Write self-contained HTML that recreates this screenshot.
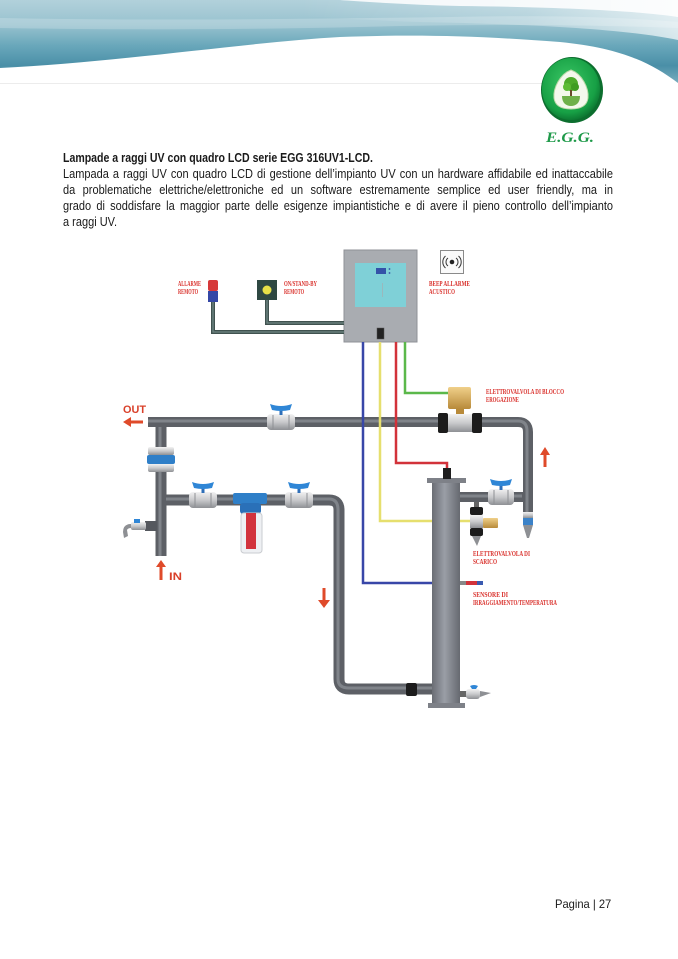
<!DOCTYPE html>
<html><head><meta charset="utf-8">
<style>
html,body{margin:0;padding:0;background:#fff;}
body{width:678px;height:959px;position:relative;overflow:hidden;font-family:"Liberation Sans",sans-serif;color:#1a1a1a;}
.ln{position:absolute;left:63px;width:625px;font-size:12.5px;line-height:16px;white-space:nowrap;text-align:justify;text-align-last:justify;transform:scaleX(0.88);transform-origin:0 0;}
.ttl{position:absolute;left:63px;top:150px;font-size:12.5px;line-height:16px;font-weight:bold;white-space:nowrap;transform:scaleX(0.845);transform-origin:0 0;}
.last{text-align:left;text-align-last:left;}
.foot{position:absolute;left:555px;top:897px;font-size:12px;line-height:15px;white-space:nowrap;transform:scaleX(0.93);transform-origin:0 0;}
svg{position:absolute;left:0;top:0;}
</style></head><body>
<svg width="678" height="959" viewBox="0 0 678 959" xmlns="http://www.w3.org/2000/svg">
<defs>
<linearGradient id="wv" x1="0" y1="0" x2="0" y2="82" gradientUnits="userSpaceOnUse">
<stop offset="0" stop-color="#b2d1db"/><stop offset="0.3" stop-color="#98c2cf"/><stop offset="0.55" stop-color="#6aa8bb"/><stop offset="0.8" stop-color="#4a8fa7"/><stop offset="1" stop-color="#76abbd"/>
</linearGradient>
<linearGradient id="wr" x1="0" y1="0" x2="1" y2="0">
<stop offset="0" stop-color="#fff" stop-opacity="0"/><stop offset="0.6" stop-color="#fff" stop-opacity="0.25"/><stop offset="1" stop-color="#fff" stop-opacity="0.7"/>
</linearGradient>
<linearGradient id="sil" x1="0" y1="0" x2="0" y2="1">
<stop offset="0" stop-color="#f2f2f2"/><stop offset="0.5" stop-color="#c9cacc"/><stop offset="1" stop-color="#8e9094"/>
</linearGradient>
<linearGradient id="col" x1="0" y1="0" x2="1" y2="0">
<stop offset="0" stop-color="#6a6d74"/><stop offset="0.45" stop-color="#9a9ea6"/><stop offset="1" stop-color="#666970"/>
</linearGradient>
<linearGradient id="brass" x1="0" y1="0" x2="0" y2="1">
<stop offset="0" stop-color="#f0d08a"/><stop offset="1" stop-color="#b88a3a"/>
</linearGradient>
<radialGradient id="grn" cx="0.45" cy="0.4" r="0.6">
<stop offset="0" stop-color="#3cc866"/><stop offset="0.8" stop-color="#17a045"/><stop offset="1" stop-color="#0d7a33"/>
</radialGradient>
</defs>

<!-- header wave -->
<path d="M0,0 H340 C420,3 520,5 600,9 C640,11 665,14 678,17 V83 C650,62 620,48 560,42 C480,36 420,34 340,37 C250,42 120,62 0,68 Z" fill="url(#wv)"/>
<path d="M0,18 C150,21 300,19 450,17 C550,15 620,17 678,22 V28 C600,25 500,24 400,26 C250,30 120,30 0,28 Z" fill="#ffffff" opacity="0.2"/>
<path d="M340,0 H678 V17 C640,11 560,7 460,6 C420,5 380,3 340,0 Z" fill="#f4f8fa"/>
<path d="M300,0 H678 V40 C620,28 520,24 420,22 C380,21 340,18 300,16 Z" fill="url(#wr)"/>
<line x1="0" y1="83.5" x2="560" y2="83.5" stroke="#ececec" stroke-width="1"/>

<!-- logo -->
<ellipse cx="572" cy="90" rx="31" ry="33" fill="#0c6e2e"/>
<ellipse cx="571" cy="89" rx="29" ry="31" fill="url(#grn)"/>
<path d="M571,70 C582,74 589,88 588,98 C587,106 580,109 571,109 C562,109 555,106 554,98 C553,88 560,74 571,70 Z" fill="#f4f8ec" stroke="#bcd9a8" stroke-width="1"/>
<circle cx="571" cy="84" r="7" fill="#4caa2a"/>
<circle cx="567" cy="87" r="4" fill="#5cbb34"/>
<circle cx="575" cy="87" r="4" fill="#3f9c22"/>
<rect x="570" y="90" width="2" height="6" fill="#6a4a2a"/>
<path d="M562,96 H580 C580,103 576,106 571,106 C566,106 562,103 562,96 Z" fill="#6fb04a"/>
<text x="546" y="142" font-family="Liberation Serif, serif" font-weight="bold" font-style="italic" font-size="15" fill="#1f9a4a" textLength="48" lengthAdjust="spacingAndGlyphs">E.G.G.</text>

<!-- control box -->
<rect x="344" y="250" width="73" height="92" fill="#a9acb1" stroke="#8f9297" stroke-width="1"/>
<rect x="355" y="263" width="51" height="44" fill="#7fd0d7"/>
<rect x="376" y="268" width="10" height="6" fill="#3452a8"/>
<circle cx="389.5" cy="269" r="0.9" fill="#3452a8"/><circle cx="389.5" cy="273" r="0.9" fill="#3452a8"/>
<rect x="382" y="283" width="1" height="14" fill="#9ab8bc"/>
<rect x="377" y="328" width="7" height="11" fill="#222" stroke="#555" stroke-width="0.5"/>

<!-- beep icon -->
<rect x="440.5" y="250.5" width="23" height="23" fill="#fafafa" stroke="#8a8a8a" stroke-width="1"/>
<circle cx="452" cy="262" r="2.3" fill="#222"/>
<path d="M448,258 A5,5 0 0 0 448,266 M456,258 A5,5 0 0 1 456,266 M445.5,256 A8,8 0 0 0 445.5,268 M458.5,256 A8,8 0 0 1 458.5,268" fill="none" stroke="#333" stroke-width="1"/>

<!-- beacon & button -->
<rect x="208" y="280" width="10" height="11" rx="2" fill="#d6393a"/>
<rect x="208" y="291" width="10" height="11" fill="#3447a6"/>
<rect x="257" y="280" width="20" height="20" fill="#2e4842"/>
<circle cx="267" cy="290" r="4.5" fill="#e6e048"/>

<!-- cables -->
<path d="M213,302 V332 H344 M267,300 V323 H344" fill="none" stroke="#40524f" stroke-width="4"/>
<path d="M213,302 V332 H344 M267,300 V323 H344" fill="none" stroke="#6f8784" stroke-width="1.3"/>

<!-- labels -->
<g font-family="Liberation Serif, serif" font-weight="bold" font-size="7" fill="#d9302b">
<text x="178" y="286" textLength="23" lengthAdjust="spacingAndGlyphs">ALLARME</text>
<text x="178" y="294" textLength="20" lengthAdjust="spacingAndGlyphs">REMOTO</text>
<text x="284" y="286" textLength="33" lengthAdjust="spacingAndGlyphs">ON/STAND-BY</text>
<text x="284" y="294" textLength="20" lengthAdjust="spacingAndGlyphs">REMOTO</text>
<text x="429" y="286" textLength="41" lengthAdjust="spacingAndGlyphs">BEEP ALLARME</text>
<text x="429" y="294" textLength="26" lengthAdjust="spacingAndGlyphs">ACUSTICO</text>
<text x="486" y="394" textLength="78" lengthAdjust="spacingAndGlyphs">ELETTROVALVOLA DI BLOCCO</text>
<text x="486" y="402" textLength="33" lengthAdjust="spacingAndGlyphs">EROGAZIONE</text>
<text x="473" y="556" textLength="57" lengthAdjust="spacingAndGlyphs">ELETTROVALVOLA DI</text>
<text x="473" y="564" textLength="24" lengthAdjust="spacingAndGlyphs">SCARICO</text>
<text x="473" y="597" textLength="35" lengthAdjust="spacingAndGlyphs">SENSORE DI</text>
<text x="473" y="605" textLength="84" lengthAdjust="spacingAndGlyphs">IRRAGGIAMENTO/TEMPERATURA</text>
</g>

<!-- pipes -->
<g fill="none" stroke-linejoin="round">
<path d="M148,422 H518 Q528,422 528,432 V513" stroke="#5d6066" stroke-width="10"/>
<path d="M161,422 V556" stroke="#5d6066" stroke-width="11"/>
<path d="M161,500 H329 Q339,500 339,510 V679 Q339,689 349,689 H432" stroke="#5d6066" stroke-width="11"/>
<path d="M460,497 H528" stroke="#5d6066" stroke-width="10"/>
<path d="M148,421 H518 Q527,421 527,431 V513" stroke="#80848a" stroke-width="3"/>
<path d="M160,427 V556" stroke="#80848a" stroke-width="3"/>
<path d="M166,499 H329 Q338,499 338,510 V679 Q338,688 349,688 H432" stroke="#80848a" stroke-width="3"/>
<path d="M460,496 H522" stroke="#80848a" stroke-width="3"/>
</g>

<!-- wires -->
<g fill="none" stroke-width="2.5">
<path d="M363,342 V583 H432" stroke="#3847a8"/>
<path d="M380,342 V521 H472" stroke="#e6df6e"/>
<path d="M396,342 V463 H447 V468" stroke="#d2323a"/>
<path d="M405,342 V393 H450" stroke="#5bb84a"/>
</g>

<!-- UV column -->
<rect x="432" y="480" width="28" height="226" fill="url(#col)"/>
<rect x="427" y="478" width="39" height="5" fill="#7e8188"/>
<rect x="428" y="703" width="37" height="5" fill="#7e8188"/>
<rect x="443" y="468" width="8" height="11" fill="#1e1e1e"/>
<!-- sensor -->
<rect x="460" y="581" width="8" height="4" fill="#888"/>
<rect x="466" y="581" width="11" height="4" fill="#d2323a"/>
<rect x="477" y="581" width="6" height="4" fill="#3a5ab0"/>

<!-- union bottom -->
<rect x="406" y="683" width="11" height="13" rx="2" fill="#1c1c1c"/>
<!-- bottom valve -->
<rect x="460" y="691" width="8" height="6" fill="#666"/>
<rect x="466" y="689" width="14" height="10" rx="3" fill="url(#sil)"/>
<path d="M470,686 Q474,684 478,686 L476,689 H472 Z" fill="#2f86d6"/>
<path d="M480,691 L491,693 L480,697 Z" fill="#8e9094"/>

<!-- electrovalve top -->
<rect x="456" y="408" width="8" height="6" fill="#b88a3a"/>
<rect x="448" y="387" width="23" height="22" rx="2" fill="url(#brass)"/>
<rect x="447" y="414" width="26" height="18" fill="url(#sil)"/>
<rect x="438" y="413" width="10" height="20" rx="2" fill="#1c1c1c"/>
<rect x="472" y="413" width="10" height="20" rx="2" fill="#1c1c1c"/>

<!-- right fitting & drain -->
<rect x="523" y="512" width="10" height="6" fill="url(#sil)"/>
<rect x="523" y="518" width="10" height="7" fill="#3b82c8"/>
<path d="M523,525 H533 L529,538 H527 Z" fill="#8e9094"/>

<!-- scarico valve -->
<rect x="474" y="502" width="5" height="6" fill="#666"/>
<rect x="470" y="507" width="13" height="8" rx="2" fill="#1c1c1c"/>
<rect x="470" y="515" width="13" height="13" fill="url(#sil)"/>
<rect x="470" y="528" width="13" height="8" rx="2" fill="#1c1c1c"/>
<path d="M472,536 H481 L477,546 Z" fill="#8e9094"/>
<rect x="483" y="518" width="15" height="10" rx="1" fill="url(#brass)"/>

<!-- ball valves -->
<g>
<rect x="267" y="414" width="28" height="16" rx="4" fill="url(#sil)"/>
<line x1="273" y1="415" x2="273" y2="429" stroke="#8e9094" stroke-width="1"/>
<line x1="289" y1="415" x2="289" y2="429" stroke="#8e9094" stroke-width="1"/>
<rect x="279.5" y="409" width="3" height="6" fill="#2f6fb8"/>
<path d="M270,404 Q281,408 292,404 L290,410 Q281,412 272,410 Z" fill="#2f86d6"/>
</g>
<g>
<rect x="189" y="492" width="28" height="16" rx="4" fill="url(#sil)"/>
<line x1="195" y1="493" x2="195" y2="507" stroke="#8e9094" stroke-width="1"/>
<line x1="211" y1="493" x2="211" y2="507" stroke="#8e9094" stroke-width="1"/>
<rect x="201.5" y="487" width="3" height="6" fill="#2f6fb8"/>
<path d="M192,482 Q203,486 214,482 L212,488 Q203,490 194,488 Z" fill="#2f86d6"/>
</g>
<g>
<rect x="285" y="492" width="28" height="16" rx="4" fill="url(#sil)"/>
<line x1="291" y1="493" x2="291" y2="507" stroke="#8e9094" stroke-width="1"/>
<line x1="307" y1="493" x2="307" y2="507" stroke="#8e9094" stroke-width="1"/>
<rect x="297.5" y="487" width="3" height="6" fill="#2f6fb8"/>
<path d="M288,482 Q299,486 310,482 L308,488 Q299,490 290,488 Z" fill="#2f86d6"/>
</g>
<g>
<rect x="488" y="489" width="26" height="16" rx="4" fill="url(#sil)"/>
<line x1="494" y1="490" x2="494" y2="504" stroke="#8e9094" stroke-width="1"/>
<line x1="508" y1="490" x2="508" y2="504" stroke="#8e9094" stroke-width="1"/>
<rect x="499.5" y="484" width="3" height="6" fill="#2f6fb8"/>
<path d="M490,479 Q501,483 512,479 L510,485 Q501,487 492,485 Z" fill="#2f86d6"/>
</g>

<!-- left union -->
<rect x="148" y="447" width="26" height="8" rx="2" fill="url(#sil)"/>
<rect x="147" y="455" width="28" height="9" rx="2" fill="#2f7fc8"/>
<rect x="148" y="464" width="26" height="8" rx="2" fill="url(#sil)"/>

<!-- filter -->
<rect x="233" y="493" width="34" height="11" rx="2" fill="#2f7fc8"/>
<rect x="240" y="503" width="21" height="11" rx="3" fill="#2a70b8"/>
<rect x="241" y="513" width="21" height="40" rx="3" fill="#eef0f3" stroke="#c9ccd0" stroke-width="1"/>
<rect x="246" y="513" width="10" height="36" fill="#d2333d"/>

<!-- tap -->
<rect x="145" y="521" width="12" height="10" fill="#55585e"/>
<rect x="131" y="522" width="15" height="8" rx="2" fill="url(#sil)"/>
<rect x="134" y="519" width="6" height="4" fill="#2f86d6"/>
<path d="M131,524 Q123,524 123,532 L124,538 L128,536 L127,530 Q128,528 131,528 Z" fill="#8e9094"/>

<!-- arrows -->
<g fill="#df4a2a">
<path d="M123,422 L131,417 V420.5 H143 V423.5 H131 V427 Z"/>
<path d="M161,560 L166,567 H162.5 V580 H159.5 V567 H156 Z"/>
<path d="M324,608 L318,600 H322.5 V588 H325.5 V600 H330 Z"/>
<path d="M545,447 L550,455 H546.5 V467 H543.5 V455 H540 Z"/>
</g>
<text x="123" y="413" font-family="Liberation Sans, sans-serif" font-weight="bold" font-size="11" fill="#d9402a" textLength="23" lengthAdjust="spacingAndGlyphs">OUT</text>
<text x="169" y="580" font-family="Liberation Sans, sans-serif" font-weight="bold" font-size="11" fill="#d9402a" textLength="13" lengthAdjust="spacingAndGlyphs">IN</text>
</svg>

<div class="ttl">Lampade a raggi UV con quadro LCD serie EGG 316UV1-LCD.</div>
<div class="ln" style="top:166px">Lampada a raggi UV con quadro LCD di gestione dell’impianto UV con un hardware affidabile ed inattaccabile</div>
<div class="ln" style="top:182px">da problematiche elettriche/elettroniche ed un software estremamente semplice ed user friendly, ma in</div>
<div class="ln" style="top:198px">grado di soddisfare la maggior parte delle esigenze impiantistiche e di avere il pieno controllo dell’impianto</div>
<div class="ln last" style="top:214px">a raggi UV.</div>
<div class="foot">Pagina | 27</div>
</body></html>
